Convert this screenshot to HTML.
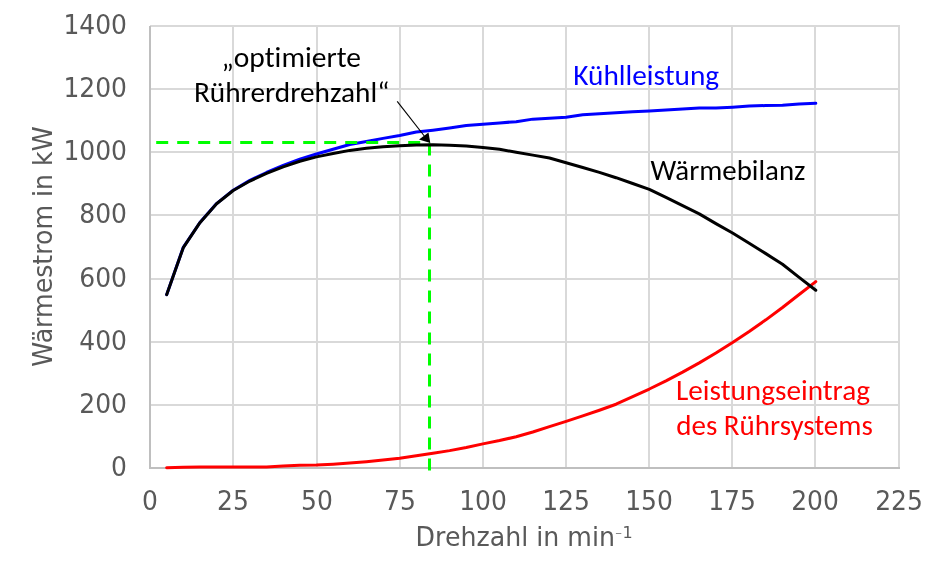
<!DOCTYPE html>
<html><head><meta charset="utf-8"><style>
html,body{margin:0;padding:0;background:#fff;width:945px;height:578px;overflow:hidden}
svg{display:block}
.ax{font-family:"DejaVu Sans","Liberation Sans",sans-serif;font-size:25.75px;fill:#595959}
.cal{font-family:Carlito,"Liberation Sans",sans-serif;font-size:29.3px;font-variant-ligatures:none;font-feature-settings:"liga" 0,"clig" 0}
</style></head><body>
<svg width="945" height="578" viewBox="0 0 945 578">
<rect width="945" height="578" fill="#fff"/>
<g stroke="#d9d9d9" stroke-width="2" shape-rendering="crispEdges">
<line x1="233" y1="25" x2="233" y2="468" />
<line x1="317" y1="25" x2="317" y2="468" />
<line x1="400" y1="25" x2="400" y2="468" />
<line x1="483" y1="25" x2="483" y2="468" />
<line x1="566" y1="25" x2="566" y2="468" />
<line x1="649" y1="25" x2="649" y2="468" />
<line x1="732" y1="25" x2="732" y2="468" />
<line x1="815" y1="25" x2="815" y2="468" />
<line x1="899" y1="25" x2="899" y2="468" />
<line x1="150" y1="26" x2="900" y2="26" />
<line x1="150" y1="89" x2="900" y2="89" />
<line x1="150" y1="152" x2="900" y2="152" />
<line x1="150" y1="215" x2="900" y2="215" />
<line x1="150" y1="279" x2="900" y2="279" />
<line x1="150" y1="342" x2="900" y2="342" />
<line x1="150" y1="405" x2="900" y2="405" />
</g>
<g stroke="#bfbfbf" stroke-width="2" shape-rendering="crispEdges">
<line x1="150" y1="26" x2="150" y2="469"/>
<line x1="149" y1="468" x2="900" y2="468"/>
</g>
<g class="ax">
<text x="127" y="476.0" text-anchor="end" textLength="15.91" lengthAdjust="spacingAndGlyphs">0</text>
<text x="127" y="413.0" text-anchor="end" textLength="47.72" lengthAdjust="spacingAndGlyphs">200</text>
<text x="127" y="350.0" text-anchor="end" textLength="47.72" lengthAdjust="spacingAndGlyphs">400</text>
<text x="127" y="287.0" text-anchor="end" textLength="47.72" lengthAdjust="spacingAndGlyphs">600</text>
<text x="127" y="223.0" text-anchor="end" textLength="47.72" lengthAdjust="spacingAndGlyphs">800</text>
<text x="127" y="160.0" text-anchor="end" textLength="63.62" lengthAdjust="spacingAndGlyphs">1000</text>
<text x="127" y="97.0" text-anchor="end" textLength="63.62" lengthAdjust="spacingAndGlyphs">1200</text>
<text x="127" y="34.0" text-anchor="end" textLength="63.62" lengthAdjust="spacingAndGlyphs">1400</text>
<text x="150" y="510" text-anchor="middle" textLength="15.91" lengthAdjust="spacingAndGlyphs">0</text>
<text x="233" y="510" text-anchor="middle" textLength="31.81" lengthAdjust="spacingAndGlyphs">25</text>
<text x="317" y="510" text-anchor="middle" textLength="31.81" lengthAdjust="spacingAndGlyphs">50</text>
<text x="400" y="510" text-anchor="middle" textLength="31.81" lengthAdjust="spacingAndGlyphs">75</text>
<text x="483" y="510" text-anchor="middle" textLength="47.72" lengthAdjust="spacingAndGlyphs">100</text>
<text x="566" y="510" text-anchor="middle" textLength="47.72" lengthAdjust="spacingAndGlyphs">125</text>
<text x="649" y="510" text-anchor="middle" textLength="47.72" lengthAdjust="spacingAndGlyphs">150</text>
<text x="732" y="510" text-anchor="middle" textLength="47.72" lengthAdjust="spacingAndGlyphs">175</text>
<text x="815" y="510" text-anchor="middle" textLength="47.72" lengthAdjust="spacingAndGlyphs">200</text>
<text x="899" y="510" text-anchor="middle" textLength="47.72" lengthAdjust="spacingAndGlyphs">225</text>
<text x="415.6" y="545.8" font-size="25.7" textLength="199.4" lengthAdjust="spacingAndGlyphs">Drehzahl in min</text>
<text x="615.1" y="535.5" font-size="8.6">−</text><text x="622.6" y="538" font-size="16">1</text>
<text transform="translate(51.5,366.7) rotate(-90)" textLength="240.4" lengthAdjust="spacingAndGlyphs">Wärmestrom in kW</text>
</g>
<g fill="none" stroke-linejoin="round" stroke-linecap="round" stroke-width="3">
<polyline stroke="#0000ff" points="166.64,294.67 183.29,247.32 199.93,222.53 216.58,203.59 233.22,190.17 249.87,180.38 266.51,172.49 283.16,165.39 299.80,159.23 316.44,154.02 333.09,149.29 349.73,144.55 366.38,141.55 383.02,138.39 399.67,135.55 416.31,132.08 432.96,130.19 449.60,127.98 466.24,125.45 482.89,124.19 499.53,122.92 516.18,121.66 532.82,119.14 549.47,118.19 566.11,117.24 582.76,114.72 599.40,113.77 616.04,112.82 632.69,111.87 649.33,110.93 665.98,109.98 682.62,109.03 699.27,108.09 715.91,108.09 732.56,107.14 749.20,105.88 765.84,105.56 782.49,105.24 799.13,103.98 815.78,103.35"/>
<polyline stroke="#ff0000" points="166.64,467.68 183.29,467.37 199.93,466.89 216.58,466.89 233.22,466.89 249.87,466.89 266.51,466.89 283.16,465.95 299.80,465.16 316.44,465.00 333.09,464.21 349.73,463.11 366.38,461.69 383.02,460.11 399.67,458.21 416.31,455.85 432.96,453.16 449.60,450.64 466.24,447.48 482.89,443.85 499.53,440.53 516.18,436.74 532.82,432.01 549.47,426.64 566.11,421.43 582.76,415.91 599.40,410.22 616.04,404.23 632.69,396.66 649.33,389.02 665.98,380.85 682.62,372.14 699.27,362.87 715.91,353.02 732.56,342.58 749.20,331.52 765.84,319.83 782.49,307.48 799.13,294.47 815.78,281.57"/>
</g>
<g stroke="#00ff00" stroke-width="3" stroke-dasharray="12 9" fill="none">
<line x1="156.2" y1="142.5" x2="430" y2="142.5"/>
<line x1="429.5" y1="143.5" x2="429.5" y2="470.7"/>
</g>
<polyline fill="none" stroke-linejoin="round" stroke-linecap="round" stroke-width="3" stroke="#000000" points="166.64,294.67 183.29,247.63 199.93,222.69 216.58,203.75 233.22,190.49 249.87,181.02 266.51,173.44 283.16,166.81 299.80,161.28 316.44,156.86 333.09,153.55 349.73,150.39 366.38,148.34 383.02,146.76 399.67,145.81 416.31,145.02 432.96,144.71 449.60,145.18 466.24,145.97 482.89,147.55 499.53,149.25 516.18,152.29 532.82,155.13 549.47,157.97 566.11,162.70 582.76,167.44 599.40,172.33 616.04,177.70 632.69,183.54 649.33,189.38 665.98,197.43 682.62,205.64 699.27,213.85 715.91,223.64 732.56,232.95 749.20,243.21 765.84,253.63 782.49,264.21 799.13,277.31 815.78,290.25"/>
<g>
<line x1="397.2" y1="101.4" x2="424.3" y2="136.0" stroke="#000" stroke-width="1.15"/>
<polygon points="430.3,143 428.5,132.5 419.0,139.5" fill="#000"/>
</g>
<g class="cal">
<text x="291.2" y="66.8" text-anchor="middle" fill="#000" font-size="29.5" textLength="139.47" lengthAdjust="spacingAndGlyphs">„optimierte</text>
<text x="291.7" y="102.4" text-anchor="middle" fill="#000" textLength="195.59" lengthAdjust="spacingAndGlyphs">Rührerdrehzahl“</text>
<text x="573.3" y="84.8" fill="#0000ff" textLength="145.81" lengthAdjust="spacingAndGlyphs">Kühlleistung</text>
<text x="650.6" y="179.8" fill="#000" font-size="28.9" textLength="154.94" lengthAdjust="spacingAndGlyphs">Wärmebilanz</text>
<text x="676" y="399.8" fill="#ff0000" font-size="29.25" textLength="193.95" lengthAdjust="spacingAndGlyphs">Leistungseintrag</text>
<text x="676.3" y="435.2" fill="#ff0000" font-size="29" textLength="196.44" lengthAdjust="spacingAndGlyphs">des Rührsystems</text>
</g>
</svg>
</body></html>
